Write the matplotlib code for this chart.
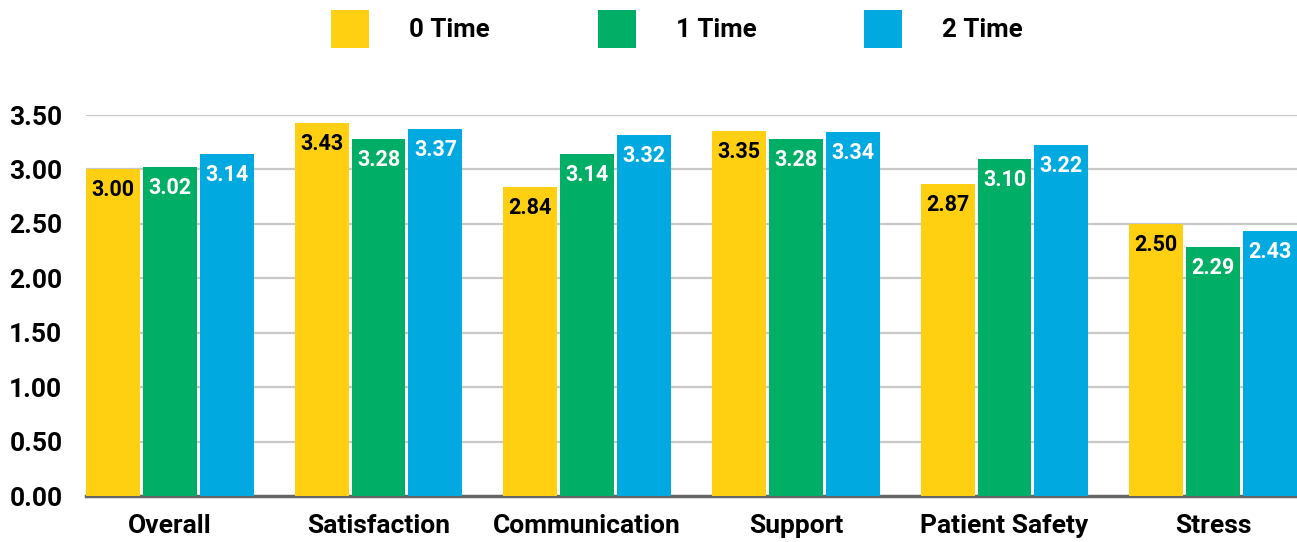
import matplotlib
matplotlib.use("Agg")
import matplotlib.pyplot as plt
import numpy as np
from matplotlib.patches import Patch

categories = ["Overall", "Satisfaction", "Communication", "Support", "Patient Safety", "Stress"]
series_names = ["0 Time", "1 Time", "2 Time"]
time0 = [3.00, 3.43, 2.84, 3.35, 2.87, 2.50]
time1 = [3.02, 3.28, 3.14, 3.28, 3.10, 2.29]
time2 = [3.14, 3.37, 3.32, 3.34, 3.22, 2.43]
yticks = [0.00, 0.50, 1.00, 1.50, 2.00, 2.50, 3.00, 3.50]

colors = ["#FFD012", "#00AE65", "#00AAE0"]
label_colors = ["black", "white", "white"]

plt.rcParams['font.family'] = ['Roboto', 'DejaVu Sans']
plt.rcParams['font.weight'] = 'bold'

fig = plt.figure(figsize=(12.97, 5.42), dpi=100)
ax = fig.add_axes([86/1297, 46/542, 1213/1297, 381/542])

x = np.arange(len(categories))
bw = 54/209
off = 57/209
series = [time0, time1, time2]
handles = []
for i, (vals, c, lc) in enumerate(zip(series, colors, label_colors)):
    ax.bar(x + (i-1)*off, vals, width=bw, color=c, zorder=3, linewidth=0)
    handles.append(Patch(facecolor=c, label=series_names[i]))
    for xi, v in zip(x + (i-1)*off, vals):
        ax.annotate(f"{v:.2f}", (xi, v), xytext=(0, -21), textcoords="offset pixels",
                    ha="center", va="center", fontsize=15.5, fontweight="bold",
                    color=lc, zorder=4)

ax.set_xlim(-84/209, 5 + 84/209 + 2/209)
ax.set_ylim(0, 3.5)
ax.set_yticks(yticks)
ax.set_yticklabels([f"{t:.2f}" for t in yticks], fontsize=19, fontweight="bold")
ax.set_xticks(x)
ax.set_xticklabels(categories, fontsize=19, fontweight="bold")
ax.tick_params(axis="both", length=0)
ax.tick_params(axis="y", pad=17)
ax.tick_params(axis="x", pad=13)
for s in ax.spines.values():
    s.set_visible(False)
for t in yticks[1:]:
    ax.axhline(t, color="#C8C8C8", lw=1.6, zorder=1)
ax.axhline(0, color="#666666", lw=2.5, zorder=2, clip_on=False)

fs = 18.6
fpx = fs * 100 / 72
hh = (38 / fpx - 0.245) / 0.65
fig.legend(handles=handles, loc="center", bbox_to_anchor=(677/1297, 1 - 29/542), ncol=3,
           frameon=False, prop={"size": fs, "weight": "bold"},
           handlelength=38/fpx, handleheight=hh, handletextpad=40/fpx, columnspacing=108/fpx,
           borderaxespad=0, borderpad=0)

fig.savefig("out.png", dpi=100)
